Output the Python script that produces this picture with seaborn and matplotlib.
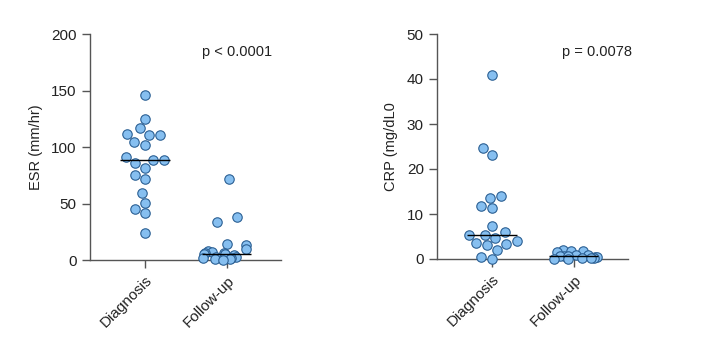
import numpy as np
import pandas as pd
import matplotlib
matplotlib.use("Agg")
import matplotlib.pyplot as plt
import seaborn as sns

groups = ["Diagnosis", "Follow-up"]
esr_diagnosis = [146, 125, 116.5, 111.5, 110.6, 110.6, 104.7, 101.8, 91.4, 88.5,
                 88.5, 85.5, 81.7, 75.2, 71.7, 59.6, 50.7, 45, 41.3, 24.2]
esr_followup = [72, 38, 34, 14, 13, 10, 8, 7, 6, 6, 5, 5, 4, 3, 3, 2, 2, 1, 1, 0]
crp_diagnosis = [40.9, 24.7, 23.2, 13.9, 13.6, 11.7, 11.3, 7.4, 5.9, 5.4,
                 5.4, 4.6, 3.9, 3.5, 3.3, 3.1, 2.1, 0.4, 0]
crp_followup = [1.9, 1.8, 1.7, 1.5, 1.0, 0.8, 0.7, 0.6, 0.6, 0.5, 0.4, 0.3, 0.3, 0.2, 0.1, 0]
esr_ticks = [0, 50, 100, 150, 200]
crp_ticks = [0, 10, 20, 30, 40, 50]
esr_label = "ESR (mm/hr)"
crp_label = "CRP (mg/dL0"
esr_p = "p < 0.0001"
crp_p = "p = 0.0078"

sns.set_theme(style="ticks")
plt.rcParams['font.family'] = ['Liberation Sans', 'DejaVu Sans']
np.random.seed(3)

fig = plt.figure(figsize=(7.27, 3.40), dpi=100)
W, H = 727, 340
ax1 = fig.add_axes([90 / W, (H - 260) / H, 191 / W, 226 / H])
ax2 = fig.add_axes([437 / W, (H - 259) / H, 191 / W, 225 / H])

face = "#86bff0"
edge = "#2b5f93"
axcol = "#555555"
msize = 6.8


def panel(ax, diag, fol, ticks, ylabel, ptext, ptx):
    d1 = pd.DataFrame({"group": [groups[0]] * len(diag), "value": list(diag)})
    d2 = pd.DataFrame({"group": [groups[1]] * len(fol), "value": list(fol)})
    sns.swarmplot(data=d1, x="group", y="value", order=groups, ax=ax,
                  color=face, edgecolor=edge, linewidth=0.8, size=msize, clip_on=False)
    sns.stripplot(data=d2, x="group", y="value", order=groups, ax=ax, jitter=0.3,
                  color=face, edgecolor=edge, linewidth=0.8, size=msize, clip_on=False)
    for i, vals in enumerate([diag, fol]):
        m = np.median(vals)
        ax.hlines(m, i - 0.3, i + 0.3, color="black", lw=1.0, zorder=5)
    ax.set_ylim(ticks[0], ticks[-1])
    ax.set_yticks(ticks)
    ax.set_xlim(-0.67, 1.66)
    ax.set_xlabel("")
    ax.set_ylabel(ylabel, fontsize=10.5, color="#222222", labelpad=6)
    ax.tick_params(axis="both", direction="out", length=6, width=1, color=axcol,
                   labelsize=11, labelcolor="#222222")
    ax.set_xticks(range(len(groups)))
    ax.set_xticklabels(groups, rotation=45, ha="right", rotation_mode="anchor", fontsize=11)
    for s in ["top", "right"]:
        ax.spines[s].set_visible(False)
    for s in ["left", "bottom"]:
        ax.spines[s].set_color(axcol)
        ax.spines[s].set_linewidth(1.0)
    ax.text(ptx, 0.92, ptext, transform=ax.transAxes, ha="center", va="center",
            fontsize=10.5, color="#222222")


panel(ax1, esr_diagnosis, esr_followup, esr_ticks, esr_label, esr_p, 0.77)
panel(ax2, crp_diagnosis, crp_followup, crp_ticks, crp_label, crp_p, 0.84)

fig.savefig("out.png", dpi=100)
